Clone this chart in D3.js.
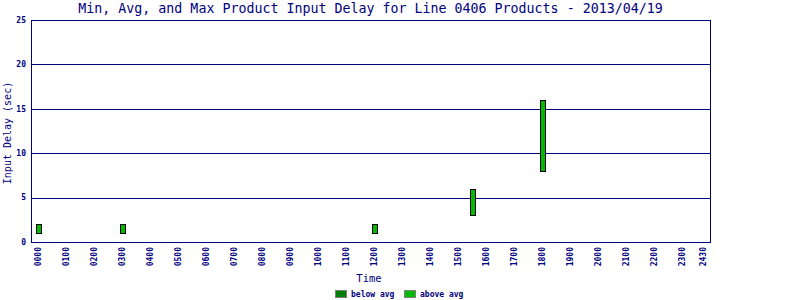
<!DOCTYPE html>
<html><head><meta charset="utf-8">
<script src="https://cdn.jsdelivr.net/npm/d3@7"></script>
<style>body{margin:0;background:#fff}svg{display:block}text{font-family:"DejaVu Sans Mono",monospace;fill:#000080}</style>
</head><body><svg id="c" width="800" height="300"></svg>
<script>
// Data
const times = [0, 3, 12, 15.5, 18];          // hour of day
const minVals = [1, 1, 1, 3, 8];
const avgVals = [1, 1, 1, 3, 8];
const maxVals = [2, 2, 2, 6, 16];
const xTickHours = [0,1,2,3,4,5,6,7,8,9,10,11,12,13,14,15,16,17,18,19,20,21,22,23,23.75];
const xTickLabels = ["0000","0100","0200","0300","0400","0500","0600","0700","0800","0900","1000","1100","1200","1300","1400","1500","1600","1700","1800","1900","2000","2100","2200","2300","2430"];
const yTicks = [0,5,10,15,20,25];
const title = "Min, Avg, and Max Product Input Delay for Line 0406 Products - 2013/04/19";

const navy = "#000080", dark = "#008000", light = "#00bb00";
const svg = d3.select("#c");
const L = 31, R = 710, T = 20, B = 242;
const x = d3.scaleLinear().domain([-0.25, 24]).range([L, R]);
const y = d3.scaleLinear().domain([0, 25]).range([B, T]);

svg.append("text").attr("x", (L+R)/2).attr("y", 13).attr("text-anchor","middle")
  .attr("font-size", 13.3).text(title);

// gridlines
svg.append("g").selectAll("line").data(yTicks.filter(v => v > 0 && v < 25)).join("line")
  .attr("x1", L).attr("x2", R).attr("y1", d => Math.round(y(d))+0.5).attr("y2", d => Math.round(y(d))+0.5)
  .attr("stroke", navy).attr("stroke-width", 1);

// border
svg.append("rect").attr("x", L+0.5).attr("y", T+0.5).attr("width", R-L).attr("height", B-T)
  .attr("fill","none").attr("stroke", navy).attr("stroke-width", 1);

// y labels
svg.append("g").selectAll("text").data(yTicks).join("text")
  .attr("x", 26).attr("y", d => y(d)).attr("dy","0.35em").attr("text-anchor","end")
  .attr("font-size", 8).attr("font-weight","bold").text(d => d);

// x labels
svg.append("g").selectAll("text").data(xTickHours).join("text")
  .attr("transform", d => `translate(${x(d)+3},247) rotate(-90)`)
  .attr("text-anchor","end").attr("font-size", 8).attr("font-weight","bold")
  .text((d,i) => xTickLabels[i]);

// axis titles
svg.append("text").attr("x", 369).attr("y", 282).attr("text-anchor","middle").attr("font-size", 10.5).text("Time");
svg.append("text").attr("transform","translate(11,133) rotate(-90)").attr("text-anchor","middle")
  .attr("font-size", 10).text("Input Delay (sec)");

// bars
const data = times.map((t,i) => ({t, min:minVals[i], avg:avgVals[i], max:maxVals[i]}));
const bw = 6;
const g = svg.append("g");
g.selectAll("rect.lo").data(data.filter(d => d.avg > d.min)).join("rect")
  .attr("x", d => Math.round(x(d.t)-2.5)+0.5).attr("width", bw-1)
  .attr("y", d => Math.round(y(d.avg))+0.5).attr("height", d => Math.round(y(d.min))-Math.round(y(d.avg)))
  .attr("fill", dark).attr("stroke","#000");
g.selectAll("rect.hi").data(data.filter(d => d.max > d.avg)).join("rect")
  .attr("x", d => Math.round(x(d.t)-2.5)+0.5).attr("width", bw-1)
  .attr("y", d => Math.round(y(d.max))+0.5).attr("height", d => Math.round(y(d.avg))-Math.round(y(d.max)))
  .attr("fill", light).attr("stroke","#000");

// legend
const leg = [{label:"below avg", c:dark, x:335},{label:"above avg", c:light, x:404}];
const lg = svg.append("g").selectAll("g").data(leg).join("g");
lg.append("rect").attr("x", d => d.x+0.5).attr("y", 290.5).attr("width", 11).attr("height", 7)
  .attr("fill", d => d.c).attr("stroke", "#808080");
lg.append("text").attr("x", d => d.x+16).attr("y", 297).attr("font-size", 8).attr("font-weight","bold").text(d => d.label);
</script></body></html>
